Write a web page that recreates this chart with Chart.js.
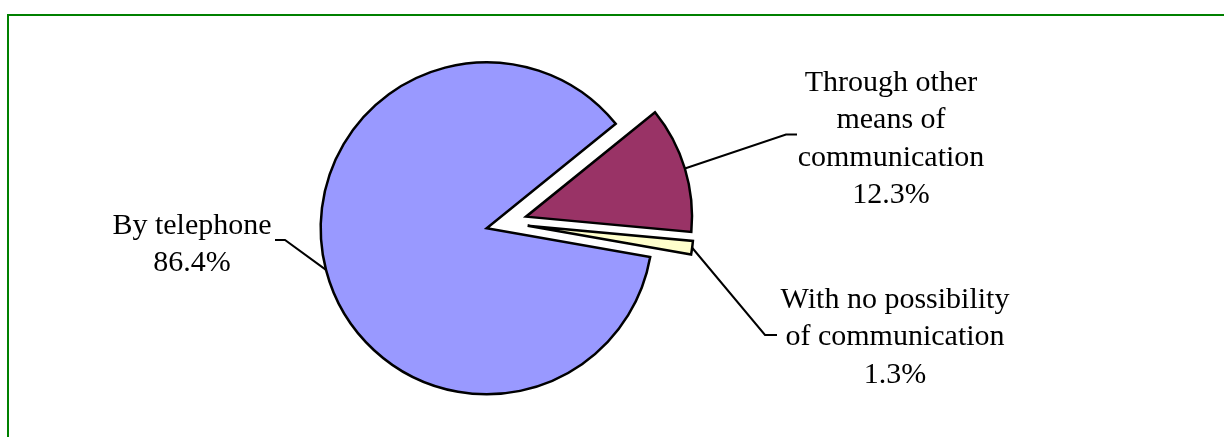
<!DOCTYPE html>
<html>
<head>
<meta charset="utf-8">
<script src="https://cdn.jsdelivr.net/npm/chart.js@4"></script>
<style>
  body { margin: 0; background: #fff; }
  #wrap { position: relative; width: 1224px; height: 437px; overflow: hidden; }
  #frame { position: absolute; left: 7px; top: 14px; width: 1300px; height: 500px;
           border-left: 2px solid #008000; border-top: 2px solid #008000; }
  #chart { position: absolute; left: 0; top: 0; }
</style>
</head>
<body>
<div id="wrap">
  <div id="frame"></div>
  <canvas id="chart" width="1224" height="437"></canvas>
</div>
<script>
// data
const sliceLabels = [['Through other', 'means of', 'communication'], ['With no possibility', 'of communication'], ['By telephone']];
const sliceValues = [12.3, 1.3, 86.4];

// look
const sliceColors = ['#993366', '#FFFFCC', '#9999FF'];
const explodeDist = [41, 41, 0];
const explodeDir = [-16.5, -3.6, 0];   // degrees, screen direction of the pull-out
const R = 166;
// text anchor (center x, first baseline) and leader bend: [bendX, bendY, endX]
const textPos = [[891, 90.5], [895, 307.5], [192, 233.5]];
const leaderBend = [[786, 134.5, 797], [765, 335, 777], [285, 240, 275]];
const lineH = 37.5;

// pull slices out of the pie
const explodePlugin = {
  id: 'explode',
  afterDatasetUpdate(chart, args) {
    args.meta.data.forEach((arc, i) => {
      const a = explodeDir[i] * Math.PI / 180;
      arc.x += Math.cos(a) * explodeDist[i];
      arc.y += Math.sin(a) * explodeDist[i];
    });
  }
};

const sliceLabelsPlugin = {
  id: 'sliceLabels',
  afterDraw(chart) {
    const ctx = chart.ctx;
    const meta = chart.getDatasetMeta(0);
    ctx.save();
    meta.data.forEach((arc, i) => {
      const mid = (arc.startAngle + arc.endAngle) / 2;
      const ex = arc.x + Math.cos(mid) * arc.outerRadius;
      const ey = arc.y + Math.sin(mid) * arc.outerRadius;
      const b = leaderBend[i];
      ctx.strokeStyle = '#000';
      ctx.lineWidth = 2;
      ctx.beginPath();
      ctx.moveTo(ex, ey);
      ctx.lineTo(b[0], b[1]);
      ctx.lineTo(b[2], b[1]);
      ctx.stroke();

      const lines = sliceLabels[i].concat([sliceValues[i].toFixed(1) + '%']);
      ctx.fillStyle = '#000';
      ctx.font = '30px "Liberation Serif", "Times New Roman", serif';
      ctx.textAlign = 'center';
      ctx.textBaseline = 'alphabetic';
      lines.forEach((t, k) => ctx.fillText(t, textPos[i][0], textPos[i][1] + k * lineH));
    });
    ctx.restore();
  }
};

new Chart(document.getElementById('chart'), {
  type: 'pie',
  data: {
    labels: sliceLabels.map(l => l.join(' ')),
    datasets: [{
      data: sliceValues,
      backgroundColor: sliceColors,
      borderColor: '#000',
      borderWidth: 2.5,
      borderJoinStyle: 'miter',
      hoverOffset: 0
    }]
  },
  options: {
    responsive: false,
    animation: false,
    rotation: 51,
    radius: R,
    layout: { padding: { left: 0, right: 250.6, top: 19.6, bottom: 0 } },
    events: [],
    plugins: {
      legend: { display: false },
      tooltip: { enabled: false }
    }
  },
  plugins: [explodePlugin, sliceLabelsPlugin]
});
</script>
</body>
</html>
